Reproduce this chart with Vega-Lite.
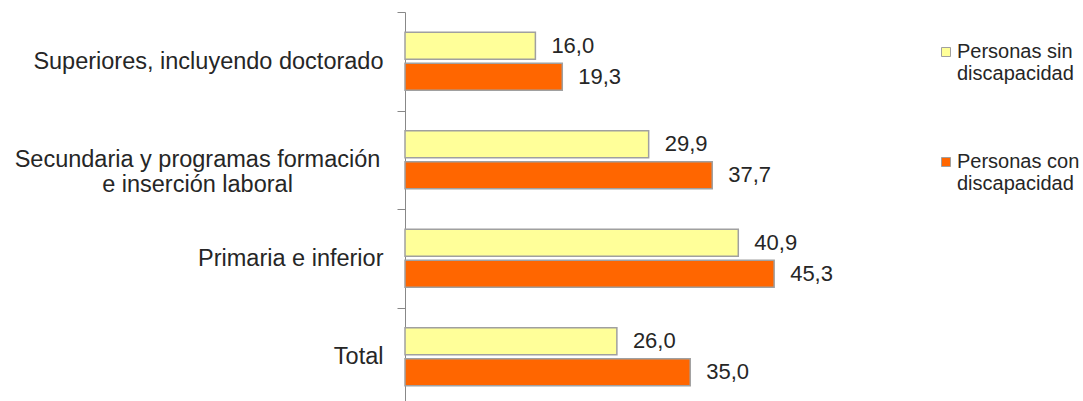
{
  "$schema": "https://vega.github.io/schema/vega-lite/v6.json",
  "autosize": "none",
  "padding": {"left": 405, "top": 12, "right": 0, "bottom": 0},
  "width": 678,
  "height": 394,
  "config": {
    "view": {"stroke": null},
    "locale": {"number": {"decimal": ",", "thousands": ".", "grouping": [3], "currency": ["", " €"]}},
    "font": "Liberation Sans"
  },
  "data": {
    "values": [
      {"categoria": "Superiores, incluyendo doctorado", "grupo": "Personas sin discapacidad", "valor": 16.0},
      {"categoria": "Superiores, incluyendo doctorado", "grupo": "Personas con discapacidad", "valor": 19.3},
      {"categoria": "Secundaria y programas formación e inserción laboral", "grupo": "Personas sin discapacidad", "valor": 29.9},
      {"categoria": "Secundaria y programas formación e inserción laboral", "grupo": "Personas con discapacidad", "valor": 37.7},
      {"categoria": "Primaria e inferior", "grupo": "Personas sin discapacidad", "valor": 40.9},
      {"categoria": "Primaria e inferior", "grupo": "Personas con discapacidad", "valor": 45.3},
      {"categoria": "Total", "grupo": "Personas sin discapacidad", "valor": 26.0},
      {"categoria": "Total", "grupo": "Personas con discapacidad", "valor": 35.0}
    ]
  },
  "encoding": {
    "y": {
      "field": "categoria",
      "type": "nominal",
      "sort": null,
      "scale": {"paddingInner": 0, "paddingOuter": 0},
      "axis": {
        "title": null,
        "domainColor": "#888888",
        "tickColor": "#888888",
        "tickSize": 8,
        "tickBand": "extent",
        "labelFontSize": 23.5,
        "labelColor": "#262626",
        "labelAlign": {"condition": {"test": "datum.value == 'Secundaria y programas formación e inserción laboral'", "value": "center"}, "value": "right"},
        "labelPadding": {"condition": {"test": "datum.value == 'Secundaria y programas formación e inserción laboral'", "value": 200}, "value": 14},
        "labelLimit": 500,
        "labelLineHeight": 25,
        "labelExpr": "datum.value == 'Secundaria y programas formación e inserción laboral' ? ['Secundaria y programas formación', 'e inserción laboral'] : datum.label"
      }
    },
    "yOffset": {
      "field": "grupo",
      "type": "nominal",
      "sort": ["Personas sin discapacidad", "Personas con discapacidad"],
      "scale": {"paddingInner": 0.13, "paddingOuter": 0.65}
    },
    "x": {
      "field": "valor",
      "type": "quantitative",
      "scale": {"domain": [0, 83.2], "nice": false},
      "axis": null
    }
  },
  "layer": [
    {
      "mark": {"type": "bar", "stroke": "#a0a0a0", "strokeWidth": 1.5},
      "encoding": {
        "color": {
          "field": "grupo",
          "type": "nominal",
          "sort": ["Personas sin discapacidad", "Personas con discapacidad"],
          "scale": {"domain": ["Personas sin discapacidad", "Personas con discapacidad"], "range": ["#ffff99", "#ff6600"]},
          "legend": {
            "title": null,
            "orient": "none",
            "legendX": 531,
            "legendY": 30,
            "padding": 0,
            "symbolType": "square",
            "symbolSize": 81,
            "symbolStrokeColor": "#a0a0a0",
            "symbolStrokeWidth": 1,
            "labelFontSize": 20,
            "labelColor": "#262626",
            "labelLineHeight": 23,
            "labelOffset": 1,
            "labelLimit": 300,
            "rowPadding": 68,
            "labelExpr": "[slice(datum.label, 0, lastindexof(datum.label, ' ')), slice(datum.label, lastindexof(datum.label, ' ') + 1)]"
          }
        }
      }
    },
    {
      "mark": {"type": "text", "align": "left", "baseline": "middle", "dx": 16, "fontSize": 22, "color": "#262626"},
      "encoding": {
        "text": {"field": "valor", "type": "quantitative", "format": ".1f"}
      }
    }
  ]
}
